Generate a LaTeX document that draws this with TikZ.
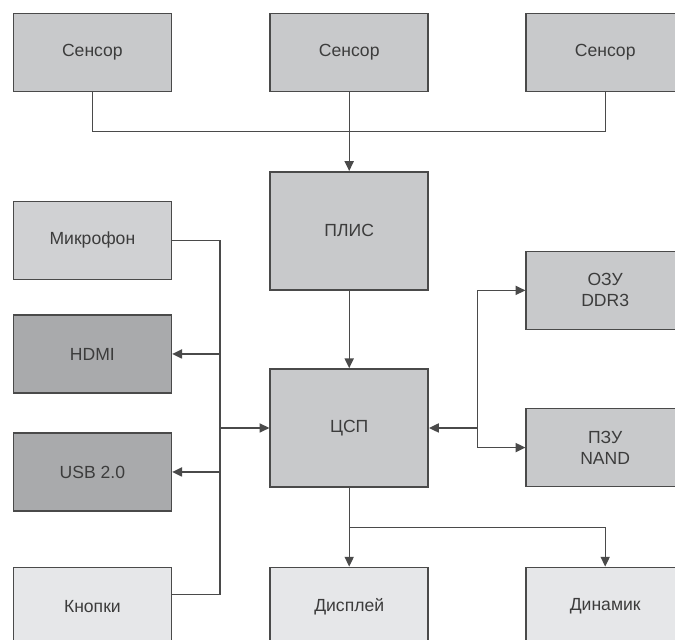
\documentclass[tikz,border=0pt]{standalone}
\usepackage{fontspec}
\setmainfont{Liberation Sans}
\usetikzlibrary{arrows.meta, positioning, calc}

\definecolor{edge}{HTML}{4A4A4A}
\definecolor{ink}{HTML}{3C3C3C}
\definecolor{midgray}{HTML}{C8C9CB}
\definecolor{lightgray}{HTML}{D0D1D3}
\definecolor{darkgray}{HTML}{A9AAAC}
\definecolor{palegray}{HTML}{E6E7E9}

\begin{document}
\begin{tikzpicture}[
    block/.style={rectangle, draw=edge, line width=1.1pt, text=ink,
        minimum width=3.95cm, minimum height=1.95cm, align=center,
        font=\fontsize{12.5}{15}\selectfont, fill=midgray},
    tall/.style={block, minimum height=2.95cm},
    wire/.style={draw=edge, line width=0.95pt},
    arr/.style={wire, -{Triangle[length=7pt, width=6.5pt]}}
]
    \useasboundingbox (0,0) rectangle (16.875,16);
    \clip (0,0) rectangle (16.875,16);

    % sensors
    \node[block] (s1) at (2.31, 14.69) {Сенсор};
    \node[block] (s2) at (8.73, 14.69) {Сенсор};
    \node[block] (s3) at (15.13, 14.69) {Сенсор};

    % FPGA and DSP
    \node[tall] (plis) at (8.73, 10.23) {ПЛИС};
    \node[tall] (dsp) at (8.73, 5.3) {ЦСП};

    % left column
    \node[block, fill=lightgray] (mic) at (2.31, 9.99) {Микрофон};
    \node[block, fill=darkgray] (hdmi) at (2.31, 7.15) {HDMI};
    \node[block, fill=darkgray] (usb) at (2.31, 4.2) {USB 2.0};
    \node[block, fill=palegray] (keys) at (2.31, 0.84) {Кнопки};

    % memory
    \node[block] (ram) at (15.13, 8.74) {ОЗУ\\DDR3};
    \node[block] (rom) at (15.13, 4.81) {ПЗУ\\NAND};

    % outputs
    \node[block, fill=palegray] (disp) at (8.73, 0.84) {Дисплей};
    \node[block, fill=palegray] (spk) at (15.13, 0.84) {Динамик};

    \coordinate (lbus) at (5.5, 5.3);
    \coordinate (rbus) at (11.93, 5.3);

    % sensor bus
    \draw[wire] (s1.south) -- ++(0,-0.99) -| (s3.south);
    \draw[arr] (s2.south) -- (plis.north);
    \draw[arr] (plis.south) -- (dsp.north);

    % peripherals bus
    \draw[wire] (mic.east) -| (lbus) |- ([yshift=8.5pt]keys.east);
    \draw[arr] (lbus |- hdmi.east) -- (hdmi.east);
    \draw[arr] (lbus |- usb.east) -- (usb.east);
    \draw[arr] (lbus) -- (dsp.west);

    % memory bus
    \draw[arr] (rbus) -- (dsp.east);
    \draw[arr] (rbus) |- (ram.west);
    \draw[arr] (rbus) |- (rom.west);

    % outputs
    \draw[arr] (dsp.south) -- (disp.north);
    \draw[arr] (dsp.south) ++(0,-1) -| (spk.north);
\end{tikzpicture}
\end{document}
